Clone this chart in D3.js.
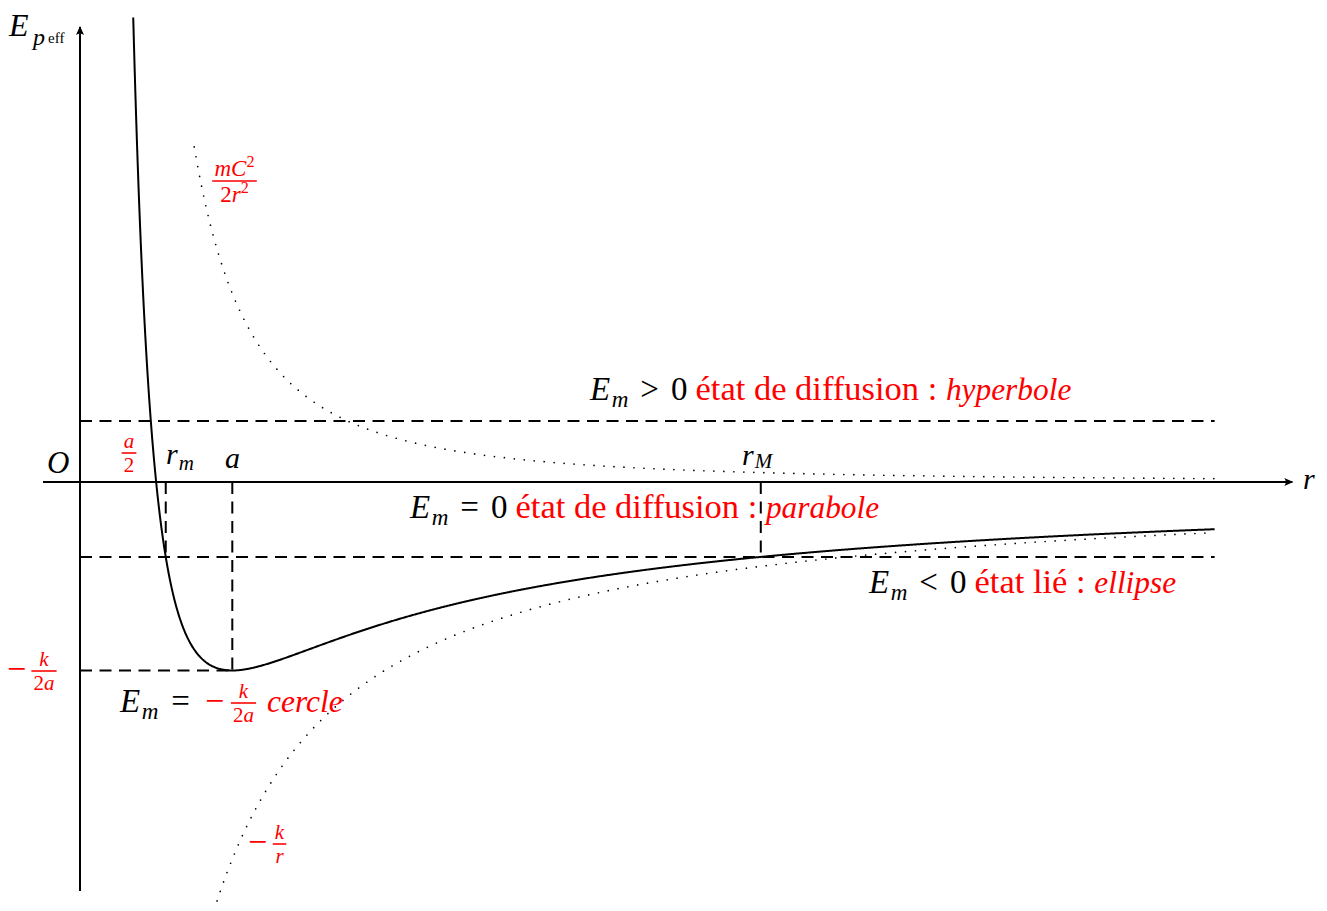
<!DOCTYPE html>
<html>
<head>
<meta charset="utf-8">
<script src="https://cdn.jsdelivr.net/npm/d3@7"></script>
<style>
  body { margin: 0; background: #fff; }
  svg { display: block; }
  text { font-family: "Liberation Serif", "DejaVu Serif", serif; white-space: pre; }
</style>
</head>
<body>
<svg id="chart" width="1327" height="911"></svg>
<script>
// Effective potential energy of a central-force orbit:
//   E_peff(r) = mC²/(2r²) − k/r
// in reduced units: r measured in a (circular-orbit radius), E in k/a, so mC² = k·a.
const kConst = [1];
const aRadius = [1];

// Mechanical-energy levels drawn as dashed lines: hyperbole, parabole, ellipse, cercle
const levelNames = ["hyperbole", "parabole", "ellipse", "cercle"];
const levelValues = [0.162, 0, -0.199, -0.5];

// Turning points r_m, r_M of the bound (ellipse) level
const turningNames = ["r_m", "r_M"];
const turningValues = [0.563, 4.47];

// Radial ranges over which each curve is plotted
const curveNames = ["total", "centrifugal", "newton"];
const curveStarts = [0.3495, 0.75, 0.9];
const curveEnds = [7.45, 7.45, 7.45];

// Axis extents (r for the horizontal axis, E for the vertical one)
const rAxisRange = [-0.243, 7.96];
const eAxisRange = [-1.085, 1.207];

const k = kConst[0], a = aRadius[0];
const centrifugal = r => (k * a) / (2 * r * r);
const newton = r => -k / r;
const total = r => centrifugal(r) + newton(r);
const fns = [total, centrifugal, newton];

const red = "#ff0000";
const svg = d3.select("#chart");

const x = d3.scaleLinear().domain([0, 8]).range([80, 1298.4]);
const y = d3.scaleLinear().domain([-1, 1]).range([859, 105]);

// Arrow head for both axes
const defs = svg.append("defs");
defs.append("marker")
  .attr("id", "arrow")
  .attr("viewBox", "-10 -5 12 10")
  .attr("refX", 0).attr("refY", 0)
  .attr("markerWidth", 12).attr("markerHeight", 10)
  .attr("markerUnits", "userSpaceOnUse")
  .attr("orient", "auto")
  .append("path")
  .attr("d", "M1,0 L-8,-4 Q-5,0 -8,4 Z")
  .attr("fill", "#000");

// Axes
svg.append("line")
  .attr("x1", x(rAxisRange[0])).attr("x2", x(rAxisRange[1]))
  .attr("y1", y(0)).attr("y2", y(0))
  .attr("stroke", "#000").attr("stroke-width", 2)
  .attr("marker-end", "url(#arrow)");
svg.append("line")
  .attr("x1", x(0)).attr("x2", x(0))
  .attr("y1", y(eAxisRange[0])).attr("y2", y(eAxisRange[1]))
  .attr("stroke", "#000").attr("stroke-width", 2)
  .attr("marker-end", "url(#arrow)");

// Dashed energy levels and turning-point verticals
const dashed = (x1, y1, x2, y2) => svg.append("line")
  .attr("x1", x1).attr("y1", y1).attr("x2", x2).attr("y2", y2)
  .attr("stroke", "#000").attr("stroke-width", 2)
  .attr("stroke-dasharray", "12 7.5");

const rEnd = curveEnds[0];
dashed(x(0), y(levelValues[0]), x(rEnd), y(levelValues[0]));      // hyperbole
dashed(x(0), y(levelValues[2]), x(rEnd), y(levelValues[2]));      // ellipse
dashed(x(0), y(levelValues[3]), x(a), y(levelValues[3]));         // cercle
dashed(x(a), y(0), x(a), y(levelValues[3]));
turningValues.forEach(r => dashed(x(r), y(0), x(r), y(levelValues[2])));

// Curves
const line = d3.line().x(d => x(d[0])).y(d => y(d[1])).curve(d3.curveLinear);
function samples(lo, hi, fn) {
  const rs = d3.range(lo, hi, 0.005);
  rs.push(hi);
  return rs.map(r => [r, fn(r)]);
}
// Dotted partial terms
[1, 2].forEach(i => {
  svg.append("path")
    .datum(samples(curveStarts[i], curveEnds[i], fns[i]))
    .attr("d", line)
    .attr("fill", "none")
    .attr("stroke", "#000").attr("stroke-width", 1.7)
    .attr("stroke-linecap", "round")
    .attr("stroke-dasharray", "0 10");
});
// Total effective potential
svg.append("path")
  .datum(samples(curveStarts[0], curveEnds[0], fns[0]))
  .attr("d", line)
  .attr("fill", "none")
  .attr("stroke", "#000").attr("stroke-width", 2)
  .attr("stroke-linejoin", "round");

// ---- Text helpers ----
// parts: { t, i: italic, sub/sup, s: size factor, dx, c: colour }
function rich(px, py, size, parts, anchor) {
  const t = svg.append("text")
    .attr("x", px).attr("y", py)
    .attr("font-size", size)
    .attr("text-anchor", anchor || "start");
  let cur = 0;
  parts.forEach(p => {
    const shift = p.sub ? size * (p.dsub || 0.22) : p.sup ? -size * 0.38 : 0;
    const ts = t.append("tspan").attr("dy", shift - cur).text(p.t);
    cur = shift;
    if (p.dx) ts.attr("dx", p.dx);
    if (p.sub || p.sup) ts.attr("font-size", size * (p.s || 0.7));
    else if (p.s) ts.attr("font-size", size * p.s);
    if (p.i) ts.attr("font-style", "italic");
    ts.attr("fill", p.c || "#000");
  });
  return t;
}

function frac(cx, barY, size, num, den, color) {
  const g = svg.append("g");
  const n = rich(cx, barY - size * 0.22, size, num.map(p => Object.assign({ c: color }, p)), "middle");
  const d = rich(cx, barY + size * 0.92, size, den.map(p => Object.assign({ c: color }, p)), "middle");
  const w = Math.max(n.node().getComputedTextLength(), d.node().getComputedTextLength()) + size * 0.2;
  g.append("line")
    .attr("x1", cx - w / 2).attr("x2", cx + w / 2)
    .attr("y1", barY).attr("y2", barY)
    .attr("stroke", color).attr("stroke-width", Math.max(1.3, size * 0.075));
}

function minus(cx, midY, size, color) {
  return svg.append("text")
    .attr("x", cx).attr("y", midY + size * 0.27)
    .attr("font-size", size).attr("text-anchor", "middle")
    .attr("fill", color).text("−");
}

// Caption "E_m <op> 0 <état ...> : <orbit>"
function caption(px, py, op, state, orbit) {
  const t = rich(px, py, 33, [
    { t: "E", i: 1 }, { t: "m", i: 1, sub: 1, dx: 1.5 },
    { t: op, dx: 12 }, { t: "0", dx: 12 }
  ]);
  const bb = t.node().getBBox();
  rich(bb.x + bb.width + 8, py, 34.5, [{ t: state, c: red }, { t: orbit, i: 1, c: red, s: 0.91 }]);
}

// ---- Axis labels ----
rich(9, 36, 32, [{ t: "E", i: 1 }]);
rich(33, 45, 24, [{ t: "p", i: 1 }]);
rich(48, 43, 15, [{ t: "eff" }]);
rich(1303, 489, 30, [{ t: "r", i: 1 }]);
rich(47, 473, 31, [{ t: "O", i: 1 }]);

// Radii on the r axis
rich(166, 464, 30, [{ t: "r", i: 1 }, { t: "m", i: 1, sub: 1, dsub: 0.2, dx: 1 }]);
rich(225, 468, 30, [{ t: "a", i: 1 }]);
rich(742, 465, 30, [{ t: "r", i: 1 }, { t: "M", i: 1, sub: 1, dsub: 0.1, dx: 1 }]);
frac(129, 453, 21, [{ t: "a", i: 1 }], [{ t: "2" }], red);

// Energy-level captions
caption(590, 400, ">", "état de diffusion : ", levelNames[0]);
caption(410, 518, "=", "état de diffusion : ", levelNames[1]);
caption(869, 593, "<", "état lié : ", levelNames[2]);

rich(120, 712, 33, [{ t: "E", i: 1 }, { t: "m", i: 1, sub: 1, dx: 1.5 }, { t: "=", dx: 13 }]);
minus(214.5, 703, 34, red);
frac(243.5, 703, 21, [{ t: "k", i: 1 }], [{ t: "2" }, { t: "a", i: 1 }], red);
rich(267, 712, 31.5, [{ t: levelNames[3], i: 1, c: red }]);

// Minimum value on the energy axis
minus(16.5, 671, 34, red);
frac(44, 671, 21, [{ t: "k", i: 1 }], [{ t: "2" }, { t: "a", i: 1 }], red);

// Names of the partial terms
frac(234.5, 181, 23, [{ t: "mC", i: 1 }, { t: "2", sup: 1, s: 0.7 }], [{ t: "2" }, { t: "r", i: 1 }, { t: "2", sup: 1, s: 0.7 }], red);
minus(257.5, 844, 34, red);
frac(279.5, 844, 21, [{ t: "k", i: 1 }], [{ t: "r", i: 1 }], red);
</script>
</body>
</html>
